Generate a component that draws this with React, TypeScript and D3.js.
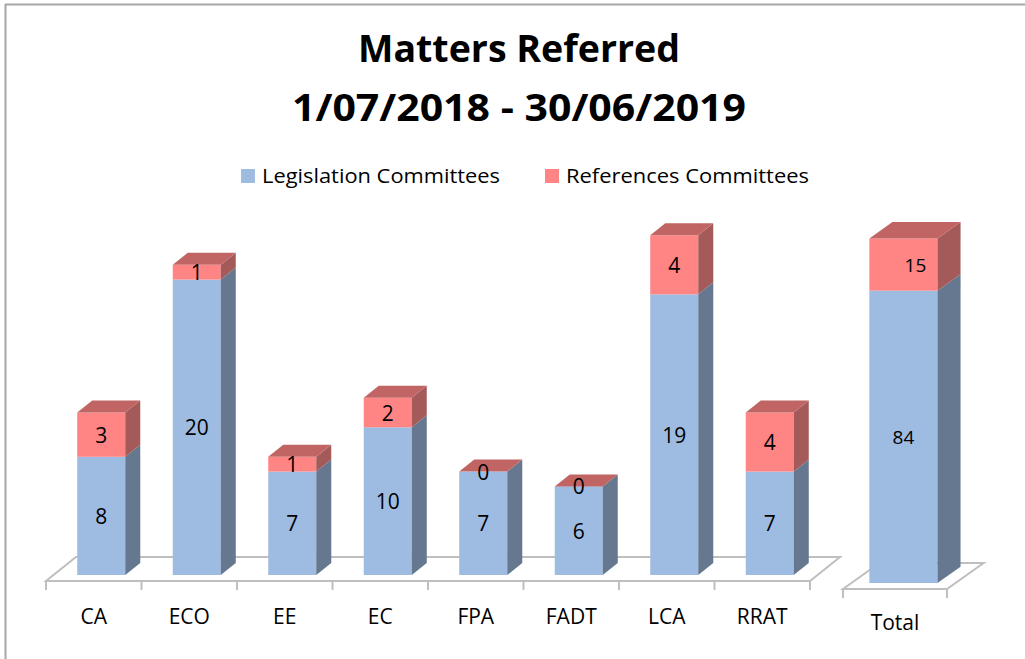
import React from "react";
import * as d3 from "d3";

const categories = ["CA", "ECO", "EE", "EC", "FPA", "FADT", "LCA", "RRAT"];
const legislation = [8, 20, 7, 10, 7, 6, 19, 7];
const references = [3, 1, 1, 2, 0, 0, 4, 4];
const totalCategories = ["Total"];
const totalLegislation = [84];
const totalReferences = [15];
const seriesNames = ["Legislation Committees", "References Committees"];
const titleLines = ["Matters Referred", "1/07/2018 - 30/06/2019"];

const COL = {
  blueFront: "#9EBBE2",
  blueSide: "#65788F",
  redFront: "#FF8585",
  redSide: "#A55A5A",
  redTop: "#C06464",
  floor: "#BFBFBF",
};
const FONT = "'Open Sans', 'DejaVu Sans', sans-serif";

type PanelProps = {
  cats: string[];
  leg: number[];
  ref: number[];
  x0: number;
  x1: number;
  floorY: number;
  floorDx: number;
  floorDy: number;
  yMax: number;
  pxPerUnit: number;
  barFrac: number;
  depthFrac: number;
  frontFrac: number;
  labelY: number;
  refLabelDx?: number;
  valueFont: number;
};

function Panel(p: PanelProps) {
  const x = d3.scaleBand<string>().domain(p.cats).range([p.x0, p.x1]).padding(0);
  const step = x.step();
  const bw = step * p.barFrac;
  const bx = p.floorDx * p.frontFrac;
  const by = p.floorDy * p.frontFrac;
  const base = p.floorY + by;
  const y = d3.scaleLinear().domain([0, p.yMax]).range([base, base - p.yMax * p.pxPerUnit]);
  const ddx = p.floorDx * p.depthFrac;
  const ddy = p.floorDy * p.depthFrac;

  const fx0 = p.x0, fx1 = p.x1, fy = p.floorY;
  const floorPts = [
    [fx0, fy],
    [fx1, fy],
    [fx1 + p.floorDx, fy + p.floorDy],
    [fx0 + p.floorDx, fy + p.floorDy],
  ];
  const ticks = d3.range(p.cats.length + 1).map((i) => p.x0 + i * step);

  const seg = (xl: number, yb: number, yt: number, front: string, side: string, key: string) => (
    <g key={key}>
      <rect x={xl} y={yt} width={bw} height={Math.max(0, yb - yt)} fill={front} />
      <polygon
        points={`${xl + bw},${yb} ${xl + bw + ddx},${yb + ddy} ${xl + bw + ddx},${yt + ddy} ${xl + bw},${yt}`}
        fill={side}
      />
    </g>
  );

  return (
    <g>
      <polygon
        points={floorPts.map((q) => q.join(",")).join(" ")}
        fill="#FFFFFF"
        stroke={COL.floor}
        strokeWidth={2}
      />
      {ticks.map((t, i) => (
        <line key={i} x1={t} x2={t} y1={fy} y2={fy + 9} stroke={COL.floor} strokeWidth={2} />
      ))}
      {p.cats.map((c, i) => {
        const xl = (x(c) as number) + (step - bw) / 2 + bx;
        const yb = y(0);
        const ym = y(p.leg[i]);
        const yt = y(p.leg[i] + p.ref[i]);
        return (
          <g key={c}>
            {seg(xl, yb, ym, COL.blueFront, COL.blueSide, "b")}
            {seg(xl, ym, yt, COL.redFront, COL.redSide, "r")}
            <polygon
              points={`${xl},${yt} ${xl + ddx},${yt + ddy} ${xl + bw + ddx},${yt + ddy} ${xl + bw},${yt}`}
              fill={COL.redTop}
            />
            <text
              x={xl + bw / 2}
              y={(yb + ym) / 2}
              textAnchor="middle"
              dominantBaseline="central"
              fontFamily={FONT}
              fontSize={p.valueFont}
              fill="#000"
            >
              {p.leg[i]}
            </text>
            <text
              x={xl + bw / 2 + (p.refLabelDx || 0)}
              y={(ym + yt) / 2}
              textAnchor="middle"
              dominantBaseline="central"
              fontFamily={FONT}
              fontSize={p.valueFont}
              fill="#000"
            >
              {p.ref[i]}
            </text>
            <text
              x={(x(c) as number) + step / 2}
              y={p.labelY}
              textAnchor="middle"
              fontFamily={FONT}
              fontSize={21}
              fill="#000"
            >
              {c}
            </text>
          </g>
        );
      })}
    </g>
  );
}

export default function App() {
  const W = 1025, H = 659;
  const titleWidths = [322, 454];
  const legendX = [241, 545];
  const legendW = [238, 243];
  return (
    <svg
      width={W}
      height={H}
      style={{ position: "absolute", left: 0, top: 0, background: "#fff" }}
    >
      <rect x={0} y={0} width={W} height={H} fill="#fff" />
      <line x1={5} x2={W} y1={4.5} y2={4.5} stroke="#A6A6A6" strokeWidth={2} />
      <line x1={5.5} x2={5.5} y1={4} y2={H} stroke="#A6A6A6" strokeWidth={2} />

      {titleLines.map((t, i) => (
        <text
          key={i}
          x={519}
          y={62 + i * 59}
          textAnchor="middle"
          fontFamily={FONT}
          fontWeight="bold"
          fontSize={37}
          textLength={titleWidths[i]}
          lengthAdjust="spacingAndGlyphs"
          fill="#000"
        >
          {t}
        </text>
      ))}

      {seriesNames.map((s, i) => {
        const lx = legendX[i];
        return (
          <g key={s}>
            <rect x={lx} y={169} width={14} height={14} fill={i === 0 ? COL.blueFront : COL.redFront} />
            <text
              x={lx + 21}
              y={183}
              fontFamily={FONT}
              fontSize={20}
              textLength={legendW[i]}
              lengthAdjust="spacingAndGlyphs"
              fill="#000"
            >
              {s}
            </text>
          </g>
        );
      })}

      <Panel
        cats={categories}
        leg={legislation}
        ref={references}
        x0={46}
        x1={810}
        floorY={581}
        floorDx={30}
        floorDy={-24}
        yMax={25}
        pxPerUnit={14.77}
        barFrac={0.503}
        depthFrac={0.5}
        frontFrac={0.25}
        labelY={624}
        valueFont={21}
      />
      <Panel
        cats={totalCategories}
        leg={totalLegislation}
        ref={totalReferences}
        x0={843}
        x1={947}
        floorY={589}
        floorDx={36.6}
        floorDy={-26}
        yMax={100}
        pxPerUnit={3.48}
        barFrac={0.655}
        depthFrac={0.63}
        frontFrac={0.23}
        labelY={630}
        refLabelDx={12}
        valueFont={19}
      />
    </svg>
  );
}
